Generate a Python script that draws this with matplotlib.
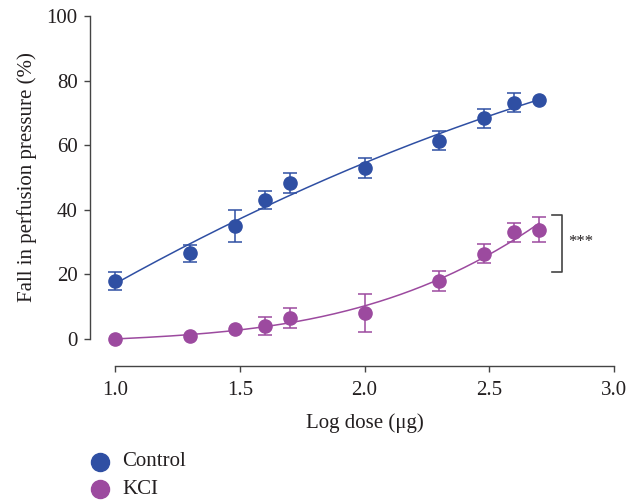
import numpy as np
import matplotlib
matplotlib.use("Agg")
import matplotlib.pyplot as plt
from matplotlib.lines import Line2D

plt.rcParams['font.family'] = ['Liberation Serif', 'DejaVu Serif']

log_dose = [1.0, 1.3, 1.48, 1.6, 1.7, 2.0, 2.3, 2.48, 2.6, 2.7]
control_mean = [18.0, 26.5, 35.0, 43.0, 48.3, 53.0, 61.4, 68.3, 73.2, 74.0]
control_err = [2.8, 2.7, 5.0, 2.8, 3.0, 3.0, 2.9, 2.9, 2.9, 0.0]
kcl_mean = [0.0, 0.8, 3.0, 4.0, 6.5, 8.0, 18.0, 26.4, 33.0, 33.8]
kcl_err = [0.0, 0.0, 0.0, 2.8, 3.0, 5.8, 3.0, 2.9, 2.9, 3.9]

x_ticks = [1.0, 1.5, 2.0, 2.5, 3.0]
y_ticks = [0, 20, 40, 60, 80, 100]
series_names = ["Control", "KCI"]
colors = ["#2f4fa3", "#9c4a9f"]
text_color = "#231f20"
spine_color = "#444444"
fs = 15

fig = plt.figure(figsize=(6.29, 5.00), dpi=100)
ax = fig.add_axes([115/629, 1-339/500, (614-115)/629, (339-16)/500])

x = np.array(log_dose)
xs = np.linspace(x.min(), x.max(), 200)

for mean, err, deg, col in [(control_mean, control_err, 2, colors[0]),
                             (kcl_mean, kcl_err, 3, colors[1])]:
    coef = np.polyfit(x, mean, deg)
    ax.plot(xs, np.polyval(coef, xs), color=col, lw=1.1, clip_on=False, zorder=2)
    err = np.array(err)
    ax.errorbar(x, mean, yerr=np.where(err > 0, err, np.nan), fmt='none',
                ecolor=col, elinewidth=1.1, capsize=4.8, capthick=1.1,
                clip_on=False, zorder=3)
    ax.plot(x, mean, 'o', color=col, ms=9.5, clip_on=False, zorder=4, mec=col)

ax.set_xlim(1.0, 3.0)
ax.set_ylim(0, 100)
ax.set_xticks(x_ticks)
ax.set_xticklabels([f"{t:.1f}" for t in x_ticks])
ax.set_yticks(y_ticks)

for s in ['top', 'right']:
    ax.spines[s].set_visible(False)
ax.spines['left'].set_position(('outward', 18))
ax.spines['bottom'].set_position(('outward', 19.5))
for s in ['left', 'bottom']:
    ax.spines[s].set_color(spine_color)
    ax.spines[s].set_linewidth(1.0)
ax.tick_params(axis='both', colors=spine_color, labelcolor=text_color,
               labelsize=fs, length=4, width=1.0)
ax.tick_params(axis='y', pad=5)
ax.tick_params(axis='x', pad=7)

ax.set_xlabel("Log dose (μg)", fontsize=fs, color=text_color, labelpad=9)
ax.set_ylabel("Fall in perfusion pressure (%)", fontsize=fs, color=text_color, labelpad=7)

# significance bracket
ax.plot([2.75, 2.79, 2.79, 2.75], [38.4, 38.4, 20.8, 20.8], color=spine_color,
        lw=1.2, clip_on=False)
ax.text(2.815, 30.0, "***", fontsize=12, color=text_color, va='center', ha='left')

# legend (drawn in figure coordinates)
for i, (name, col) in enumerate(zip(series_names, colors)):
    yc = 1 - (462 + 27 * i) / 500
    fig.add_artist(Line2D([100/629], [yc], marker='o', ls='none', color=col, ms=13,
                          transform=fig.transFigure))
    fig.text(122/629, yc, name, fontsize=fs, color=text_color, va='center', ha='left')

fig.savefig("out.png", dpi=100)
